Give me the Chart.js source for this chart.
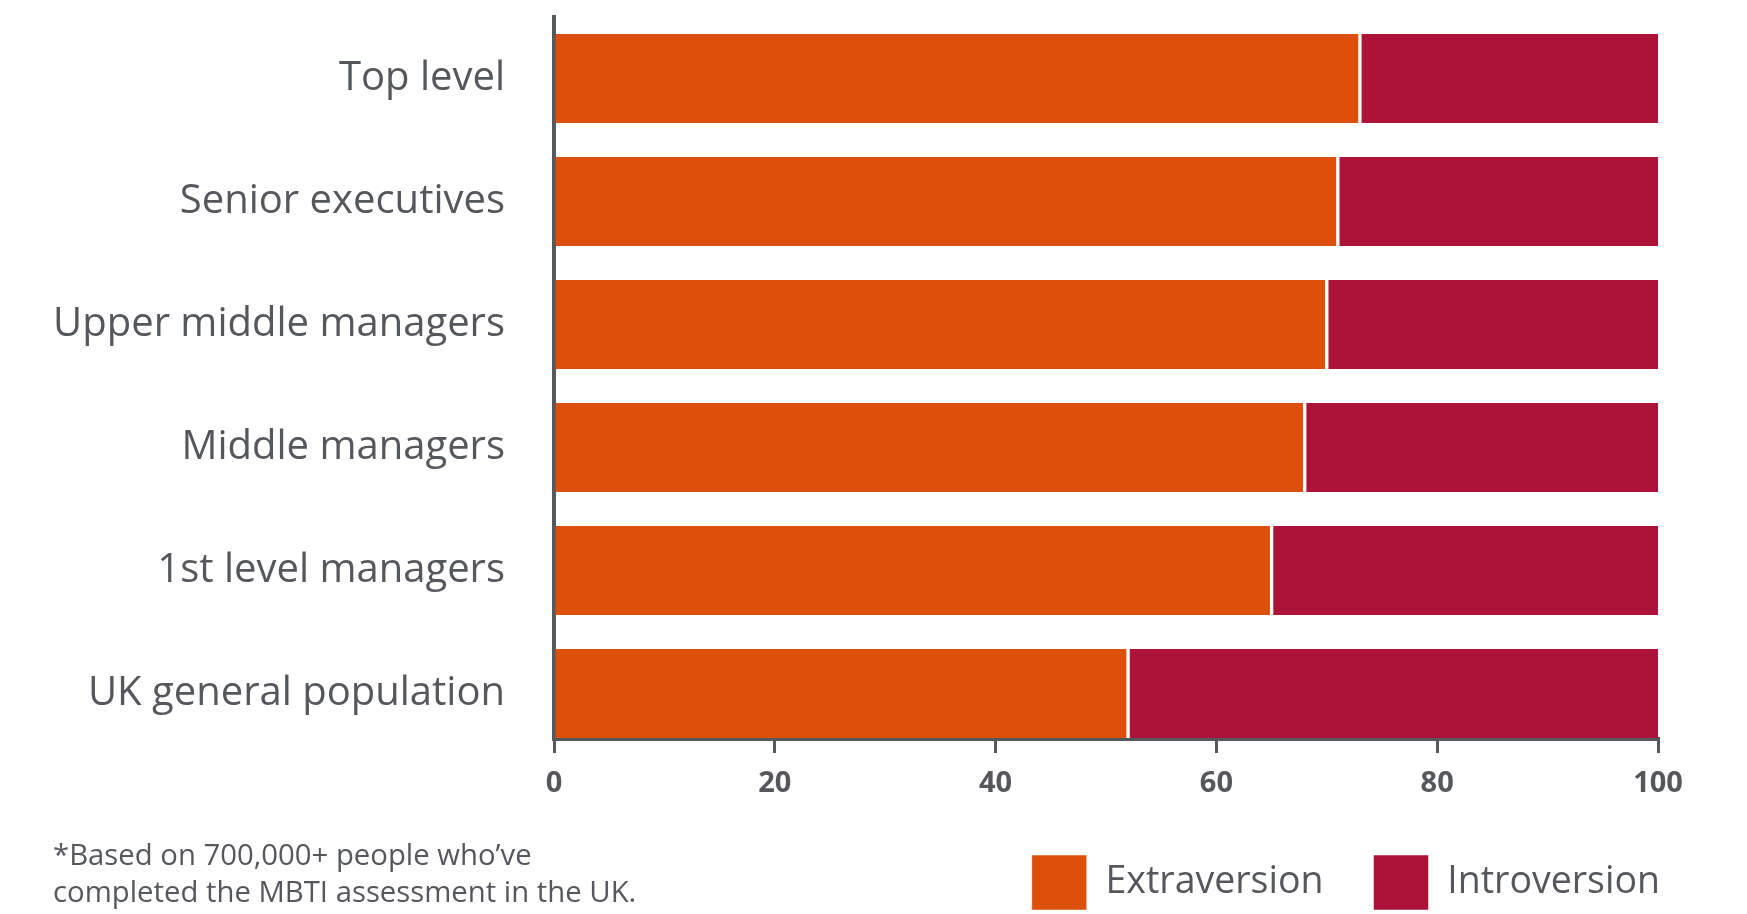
<!DOCTYPE html>
<html>
<head>
<meta charset="utf-8">
<script src="https://cdn.jsdelivr.net/npm/chart.js@4.4.0/dist/chart.umd.min.js"></script>
<style>
  body { margin: 0; background: #fff; overflow: hidden; }
  #wrap { position: relative; width: 1747px; height: 914px; }
  #note {
    position: absolute; left: 53px; top: 836px;
    font-family: "Open Sans", sans-serif; font-size: 29.3px; line-height: 37px;
    color: #54585d;
  }
</style>
</head>
<body>
<div id="wrap">
  <canvas id="chart" width="1747" height="914"></canvas>
  <div id="note">*Based on 700,000+ people who’ve<br>completed the MBTI assessment in the UK.</div>
</div>
<script>
var categories = ['Top level', 'Senior executives', 'Upper middle managers', 'Middle managers', '1st level managers', 'UK general population'];
var extraversion = [73, 71, 70, 68, 65, 52];
var introversion = [27, 29, 30, 32, 35, 48];
var xTicks = [0, 20, 40, 60, 80, 100];

var gray = '#55595e';
var textGray = '#54585d';

// y is a linear index axis so the frame can sit a bit tighter at the bottom than at the top
function toPoints(values) {
    return values.map(function (v, i) { return { x: v, y: i }; });
}

var ctx = document.getElementById('chart').getContext('2d');
var chart = new Chart(ctx, {
    type: 'bar',
    data: {
        datasets: [{
            label: 'Extraversion',
            data: toPoints(extraversion),
            backgroundColor: '#dd500b',
            borderColor: '#ffffff',
            borderWidth: { right: 2 },
            borderSkipped: false
        }, {
            label: 'Introversion',
            data: toPoints(introversion),
            backgroundColor: '#ad1338',
            borderColor: '#ffffff',
            borderWidth: { left: 2 },
            borderSkipped: false
        }]
    },
    options: {
        responsive: false,
        animation: false,
        indexAxis: 'y',
        barThickness: 89,
        // legend keeps 10px under its boxes, let that hang off the bottom edge
        layout: { padding: { top: 17, right: 37, left: 0, bottom: -6 } },
        scales: {
            x: {
                stacked: true,
                min: 0,
                max: 100,
                afterBuildTicks: function (scale) {
                    scale.ticks = xTicks.map(function (v) { return { value: v }; });
                },
                afterFit: function (scale) {
                    scale.height = 66;
                    scale.paddingRight = 89;
                },
                grid: { drawOnChartArea: false, drawTicks: true, tickLength: 14, color: gray, lineWidth: 3 },
                border: { display: true, color: gray, width: 4 },
                ticks: {
                    padding: 13,
                    color: textGray,
                    font: { family: 'Open Sans', size: 29, weight: 'bold' }
                }
            },
            y: {
                type: 'linear',
                stacked: true,
                reverse: true,
                offset: false,
                min: -0.5,
                max: 5.37,
                afterBuildTicks: function (scale) {
                    scale.ticks = categories.map(function (c, i) { return { value: i }; });
                },
                afterFit: function (scale) {
                    scale.width = 554;
                    // label padding would otherwise be added above and below the plot
                    scale.paddingTop = 0;
                    scale.paddingBottom = 0;
                },
                grid: { display: false, drawTicks: false, offset: false },
                border: { display: true, color: gray, width: 4 },
                ticks: {
                    padding: 49,
                    color: textGray,
                    font: { family: 'Open Sans', size: 40 },
                    callback: function (value) { return categories[value]; }
                }
            }
        },
        plugins: {
            tooltip: { enabled: false },
            legend: {
                position: 'bottom',
                align: 'end',
                labels: {
                    boxWidth: 55,
                    boxHeight: 55,
                    padding: 50,
                    color: textGray,
                    font: { family: 'Open Sans', size: 37.5 }
                }
            }
        }
    }
});
</script>
</body>
</html>
